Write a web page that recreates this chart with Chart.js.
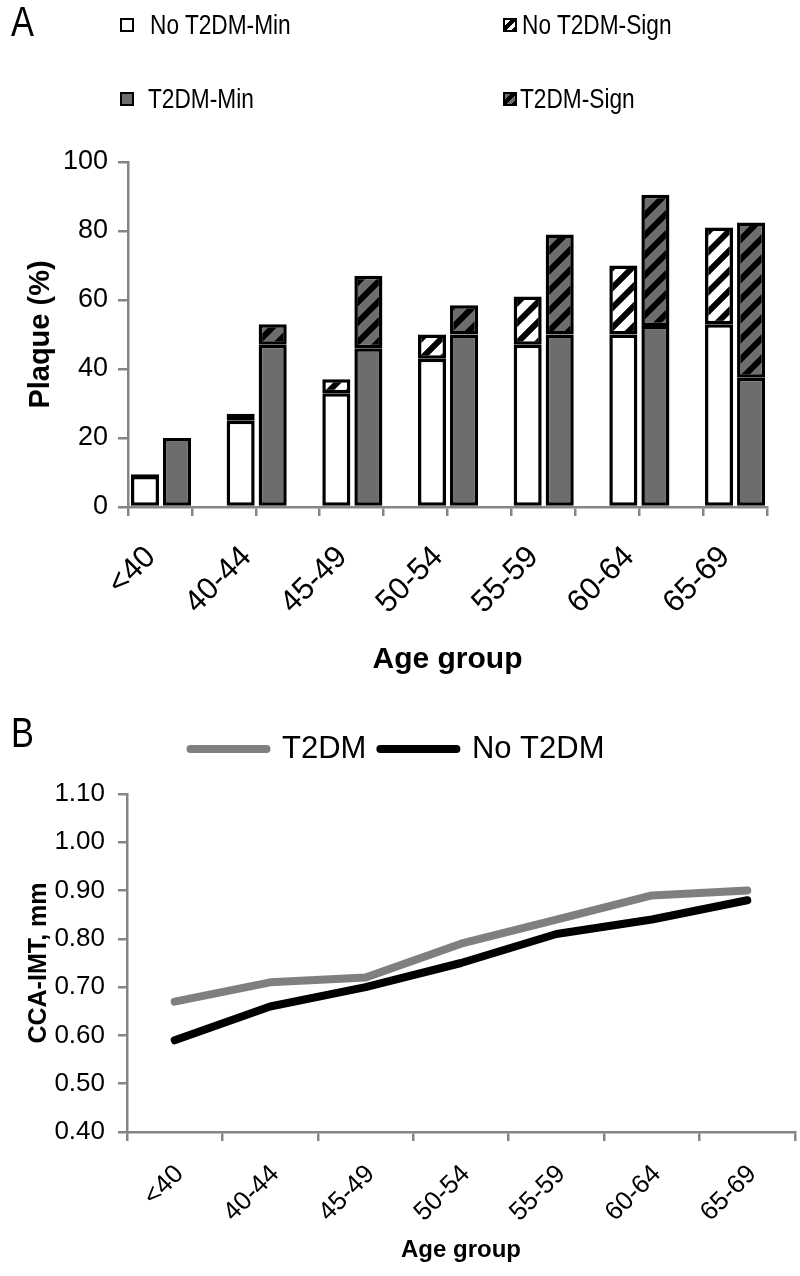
<!DOCTYPE html>
<html>
<head>
<meta charset="utf-8">
<script src="https://cdn.jsdelivr.net/npm/chart.js@4.4.1/dist/chart.umd.min.js"></script>
<style>
    html, body { margin: 0; padding: 0; background: #fff; }
    body { position: relative; width: 800px; height: 1276px; overflow: hidden; font-family: 'Liberation Sans', Arial, sans-serif; color: #000; }
    canvas { position: absolute; left: 0; }
    #chartA { top: 0; }
    #chartB { top: 700px; }
    .panel { position: absolute; left: 11px; font-size: 43px; line-height: 1; transform: scaleX(0.8); transform-origin: left top; }
    .leg { position: absolute; font-size: 27px; line-height: 1; white-space: nowrap; transform: scaleX(0.84); transform-origin: left top; }
    .box { position: absolute; width: 10px; height: 10px; border: 2px solid #000; }
</style>
</head>
<body>
<canvas id="chartA" width="800" height="700"></canvas>
<canvas id="chartB" width="800" height="576"></canvas>

<div class="panel" style="top:0px;">A</div>
<div class="panel" style="top:711px;">B</div>

<div class="box" style="left:120px; top:18px; background:#fff;"></div>
<div class="leg" style="left:150px; top:12px;">No T2DM-Min</div>
<div class="box" style="left:503px; top:18px; background:repeating-linear-gradient(135deg, #fff 0 4px, #000 4px 8px);"></div>
<div class="leg" style="left:522px; top:12px;">No T2DM-Sign</div>
<div class="box" style="left:120px; top:92px; background:#6d6d6d;"></div>
<div class="leg" style="left:148px; top:86px;">T2DM-Min</div>
<div class="box" style="left:503px; top:92px; background:repeating-linear-gradient(135deg, #6d6d6d 0 4px, #000 4px 8px);"></div>
<div class="leg" style="left:520px; top:86px;">T2DM-Sign</div>

<script>
(function () {
    // age groups shared by both panels
    const ageGroups = ['<40', '40-44', '45-49', '50-54', '55-59', '60-64', '65-69'];

    // panel A: plaque (%) split into minimal / significant
    const noT2dmMin  = [9, 25, 33, 43, 47, 50, 53];
    const noT2dmSign = [0.5, 2, 4, 7, 14, 20, 28];
    const t2dmMin    = [20, 47, 46, 50, 50, 52.5, 37.5];
    const t2dmSign   = [null, 6, 21, 8.5, 29, 38, 45];

    // panel B: CCA-IMT, mm
    const imtT2dm   = [0.67, 0.71, 0.72, 0.79, 0.84, 0.89, 0.90];
    const imtNoT2dm = [0.59, 0.66, 0.70, 0.75, 0.81, 0.84, 0.88];

    const GRAY = '#6d6d6d';
    const AXIS = '#858585';
    const SANS = "'Liberation Sans', Arial, sans-serif";
    // panel A groups sit off-centre on the axis, as in the original figure
    const X_MIN = -0.345, X_MAX = 6.334;

    Chart.defaults.font.family = SANS;
    Chart.defaults.color = '#000';

    function makeHatch(bg) {
        const s = 20;
        const c = document.createElement('canvas');
        c.width = c.height = s;
        const g = c.getContext('2d');
        g.fillStyle = bg;
        g.fillRect(0, 0, s, s);
        g.strokeStyle = '#000';
        g.lineWidth = 6;
        g.beginPath();
        g.moveTo(-s / 2, s / 2); g.lineTo(s / 2, -s / 2);
        g.moveTo(0, s); g.lineTo(s, 0);
        g.moveTo(s / 2, s * 1.5); g.lineTo(s * 1.5, s / 2);
        g.stroke();
        return g.createPattern(c, 'repeat');
    }

    function pts(arr) { return arr.map(function (v, i) { return { x: i, y: v }; }); }

    new Chart(document.getElementById('chartA'), {
        type: 'bar',
        data: {
            datasets: [
                { label: 'No T2DM-Min', data: pts(noT2dmMin), stack: 'no', backgroundColor: '#fff' },
                { label: 'No T2DM-Sign', data: pts(noT2dmSign), stack: 'no', backgroundColor: makeHatch('#fff') },
                { label: 'T2DM-Min', data: pts(t2dmMin), stack: 't2dm', backgroundColor: GRAY },
                { label: 'T2DM-Sign', data: pts(t2dmSign), stack: 't2dm', backgroundColor: makeHatch(GRAY) }
            ]
        },
        options: {
            responsive: false,
            animation: false,
            datasets: {
                bar: { borderColor: '#000', borderWidth: 3.5, borderSkipped: false, barPercentage: 0.875, categoryPercentage: 0.67 }
            },
            layout: { padding: { top: 162, right: 33, left: 0, bottom: 0 } },
            plugins: { legend: { display: false }, tooltip: { enabled: false } },
            scales: {
                x: {
                    type: 'linear', offset: false, min: X_MIN, max: X_MAX, stacked: true, weight: 1,
                    border: { display: false },
                    grid: { display: false, drawTicks: false, offset: false },
                    ticks: {
                        stepSize: 1, includeBounds: false, autoSkip: false,
                        maxRotation: 45, minRotation: 45, padding: 22, labelOffset: -10,
                        font: { size: 31 },
                        callback: function (v) { return ageGroups[v] !== undefined ? ageGroups[v] : ''; }
                    },
                    title: { display: true, text: 'Age group', font: { size: 30, weight: 'bold' }, padding: { top: 0, bottom: 22 } },
                    afterBuildTicks: function (s) {
                        s.ticks = ageGroups.map(function (_, i) { return { value: i }; });
                        s.min = X_MIN;
                        s.max = X_MAX;
                    },
                    afterFit: function (s) { s.height = 183; }
                },
                xt: {
                    type: 'linear', axis: 'x', position: 'bottom', offset: false, min: 0, max: 10, weight: 0,
                    border: { color: AXIS, width: 2.5 },
                    grid: { offset: false, drawOnChartArea: false, color: AXIS, lineWidth: 2.5, tickLength: 9 },
                    ticks: { display: false, stepSize: 1 },
                    afterFit: function (s) { s.height = 10; }
                },
                y: {
                    stacked: true, min: 0, max: 100,
                    border: { color: AXIS, width: 2.5 },
                    grid: { drawOnChartArea: false, color: AXIS, lineWidth: 2.5, tickLength: 10 },
                    ticks: { stepSize: 20, padding: 10, font: { size: 27 } },
                    title: { display: true, text: 'Plaque (%)', font: { size: 29, weight: 'bold' }, padding: { top: 24 } },
                    afterFit: function (s) { s.width = 128; }
                }
            }
        }
    });

    // push the plot down below the legend
    const legendSpace = {
        id: 'legendSpace',
        beforeInit: function (chart) {
            const fit = chart.legend.fit;
            chart.legend.fit = function () {
                fit.bind(chart.legend)();
                this.height += 19.5;
            };
        }
    };

    new Chart(document.getElementById('chartB'), {
        type: 'line',
        data: {
            labels: ageGroups,
            datasets: [
                { label: 'T2DM', data: imtT2dm, borderColor: '#7f7f7f', backgroundColor: '#7f7f7f' },
                { label: 'No T2DM', data: imtNoT2dm, borderColor: '#000', backgroundColor: '#000' }
            ]
        },
        options: {
            responsive: false,
            animation: false,
            datasets: {
                line: { borderWidth: 8, pointRadius: 0, borderCapStyle: 'round', borderJoinStyle: 'round', tension: 0 }
            },
            layout: { padding: { top: 19.5, right: 5, left: 0, bottom: 0 } },
            plugins: {
                tooltip: { enabled: false },
                legend: {
                    labels: {
                        usePointStyle: true, pointStyle: 'line', pointStyleWidth: 76, padding: 14,
                        font: { size: 31 }, color: '#000',
                        generateLabels: function (chart) {
                            const items = Chart.defaults.plugins.legend.labels.generateLabels(chart);
                            items.forEach(function (it) {
                                it.lineCap = 'round';
                                it.lineWidth = 8;
                                it.strokeStyle = chart.data.datasets[it.datasetIndex].borderColor;
                            });
                            return items;
                        }
                    }
                }
            },
            scales: {
                x: {
                    offset: true,
                    border: { color: AXIS, width: 2.5 },
                    grid: { offset: true, drawOnChartArea: false, color: AXIS, lineWidth: 2.5, tickLength: 9 },
                    ticks: { autoSkip: false, maxRotation: 45, minRotation: 45, padding: 18, labelOffset: 5, font: { size: 26 } },
                    title: { display: true, text: 'Age group', font: { size: 24, weight: 'bold' }, padding: { top: 0, bottom: 11.6 } },
                    afterFit: function (s) { s.height = 144; }
                },
                y: {
                    min: 0.4, max: 1.1,
                    border: { color: AXIS, width: 2.5 },
                    grid: { drawOnChartArea: false, color: AXIS, lineWidth: 2.5, tickLength: 9 },
                    ticks: { stepSize: 0.1, padding: 13, font: { size: 26 }, callback: function (v) { return v.toFixed(2); } },
                    title: { display: true, text: 'CCA-IMT, mm', font: { size: 25, weight: 'bold' }, padding: { top: 24 } },
                    afterFit: function (s) { s.width = 127; }
                }
            }
        },
        plugins: [legendSpace]
    });
})();
</script>
</body>
</html>
